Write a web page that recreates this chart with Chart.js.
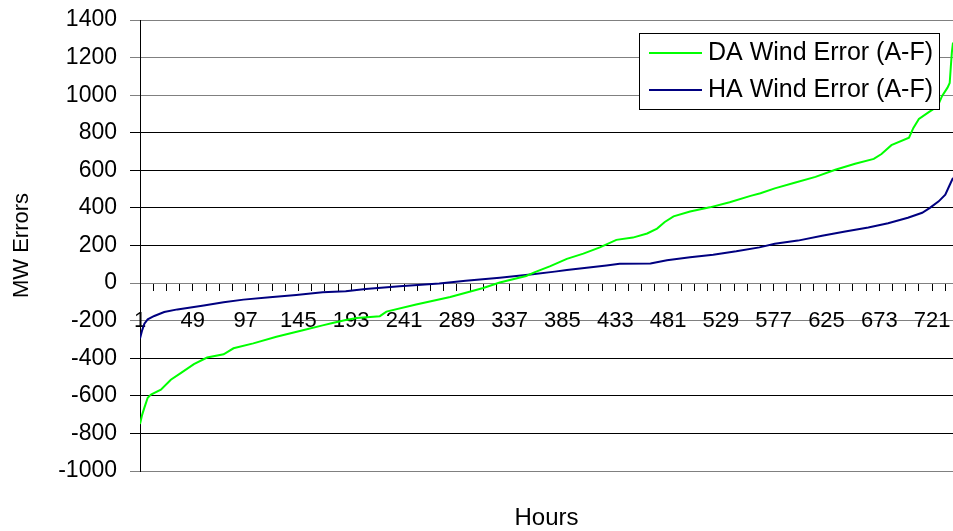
<!DOCTYPE html>
<html>
<head>
<meta charset="utf-8">
<script src="https://cdn.jsdelivr.net/npm/chart.js@4"></script>
<style>
body{margin:0;background:#fff;}
#wrap{width:953px;height:531px;position:relative;}
</style>
</head>
<body>
<div id="wrap"><canvas id="errChart"></canvas></div>
<script>

/* data (sorted hourly errors) */
let daHours = [1, 3, 5, 8, 11, 20, 29, 38, 50, 62, 77, 86, 104, 125, 149, 167, 176, 187, 198, 219, 225, 252, 283, 313, 328, 352, 360, 374, 389, 404, 419, 434, 449, 462, 471, 478, 486, 501, 519, 537, 556, 565, 578, 596, 615, 633, 651, 668, 675, 684, 700, 704, 709, 718, 726, 730, 735, 737, 738, 739, 740];
let daError = [-750, -700, -663, -610, -593, -567, -514, -479, -431, -396, -379, -347, -321, -286, -251, -225, -212, -198, -186, -176, -152, -114, -74, -26, 3, 38, 58, 90, 129, 157, 190, 230, 242, 264, 290, 325, 355, 381, 403, 430, 464, 478, 504, 534, 565, 603, 635, 661, 687, 734, 774, 826, 873, 910, 940, 995, 1040, 1065, 1150, 1230, 1280];

let haHours = [1, 3, 5, 8, 14, 23, 35, 59, 77, 95, 119, 143, 167, 188, 206, 237, 273, 297, 328, 358, 378, 389, 407, 425, 437, 465, 480, 501, 522, 543, 564, 578, 599, 621, 642, 663, 681, 699, 712, 719, 727, 733, 737, 740];
let haError = [-295, -250, -216, -193, -175, -154, -140, -119, -102, -88, -75, -63, -49, -44, -31, -17, -2, 12, 29, 47, 61, 70, 82, 94, 103, 104, 122, 137, 151, 169, 190, 209, 226, 252, 275, 296, 318, 348, 374, 400, 435, 470, 522, 560];

let seriesNames = ["DA Wind Error (A-F)", "HA Wind Error (A-F)"];
let tickLabels = [1, 49, 97, 145, 193, 241, 289, 337, 385, 433, 481, 529, 577, 625, 673, 721];
let lastHour = 740;

let font = "'Liberation Sans', Arial, sans-serif";

function pts(xs, ys){
  return xs.map((x, i) => ({x: x, y: ys[i]}));
}

/* legend with a box round it, like the excel one */
const boxLegend = {
  id: "boxLegend",
  afterDraw(chart){
    let ctx = chart.ctx;
    let x = 639, y = 33, w = 300, h = 76;
    ctx.save();
    ctx.fillStyle = "#fff";
    ctx.fillRect(x, y, w, h);
    ctx.strokeStyle = "#000";
    ctx.lineWidth = 1;
    ctx.strokeRect(x + 0.5, y + 0.5, w, h);
    ctx.font = "25px " + font;
    ctx.textBaseline = "middle";
    chart.data.datasets.forEach((ds, i) => {
      let cy = y + 20 + i * 37;
      ctx.strokeStyle = ds.borderColor;
      ctx.lineWidth = 2;
      ctx.beginPath();
      ctx.moveTo(x + 10, cy);
      ctx.lineTo(x + 63, cy);
      ctx.stroke();
      ctx.fillStyle = "#000";
      ctx.fillText(ds.label, x + 69, cy);
    });
    ctx.restore();
  }
};

let grayLines = [1400, 1200, 1000, 0, -200, -1000];

new Chart(document.getElementById("errChart"), {
  type: "line",
  data: {
    datasets: [{
      label: seriesNames[0],
      data: pts(daHours, daError),
      borderColor: "#00ff00",
      borderWidth: 2,
      pointRadius: 0,
      tension: 0
    },{
      label: seriesNames[1],
      data: pts(haHours, haError),
      borderColor: "#000080",
      borderWidth: 2,
      pointRadius: 0,
      tension: 0
    }]
  },
  options: {
    responsive: true,
    maintainAspectRatio: false,
    animation: false,
    layout: { padding: { top: 20, right: 0, bottom: 0, left: 0 } },
    plugins: {
      legend: { display: false },
      tooltip: { enabled: false }
    },
    scales: {
      x: {
        type: "linear",
        min: 1,
        max: lastHour,
        position: { y: 0 },
        afterBuildTicks(scale){
          let t = [];
          for(let v = 1; v <= lastHour; v += 12) t.push({value: v});
          scale.ticks = t;
        },
        afterFit(scale){ scale.paddingLeft = 0; scale.paddingRight = 0; },
        ticks: {
          autoSkip: false,
          maxRotation: 0,
          minRotation: 0,
          padding: 18,
          color: "#000",
          font: { family: font, size: 22 },
          callback: (v) => tickLabels.includes(v) ? String(v) : ""
        },
        grid: { drawOnChartArea: false, drawTicks: true, tickLength: 7, color: "#000" },
        border: { color: "#808080", width: 1 }
      },
      xTitle: {
        type: "linear",
        axis: "x",
        position: "bottom",
        min: 1,
        max: lastHour,
        ticks: { display: false },
        grid: { display: false },
        border: { display: false },
        title: { display: true, text: "Hours", color: "#000", font: { family: font, size: 24 }, padding: { top: 0, bottom: -2 } },
        afterFit(scale){ scale.height = 60; scale.paddingLeft = 0; scale.paddingRight = 0; }
      },
      y: {
        min: -1000,
        max: 1400,
        ticks: {
          stepSize: 200,
          padding: 13,
          color: "#000",
          font: { family: font, size: 23 },
          callback: (v) => String(v)
        },
        grid: {
          tickLength: 10,
          color: (c) => grayLines.includes(c.tick.value) ? "#808080" : "#000"
        },
        border: { color: "#000", width: 1 },
        title: { display: true, text: "MW Errors", color: "#000", font: { family: font, size: 22 }, padding: { top: 9, bottom: 0 } },
        afterFit(scale){ scale.width = 140; scale.paddingTop = 0; scale.paddingBottom = 0; }
      }
    }
  },
  plugins: [boxLegend]
});
</script>
</body>
</html>
